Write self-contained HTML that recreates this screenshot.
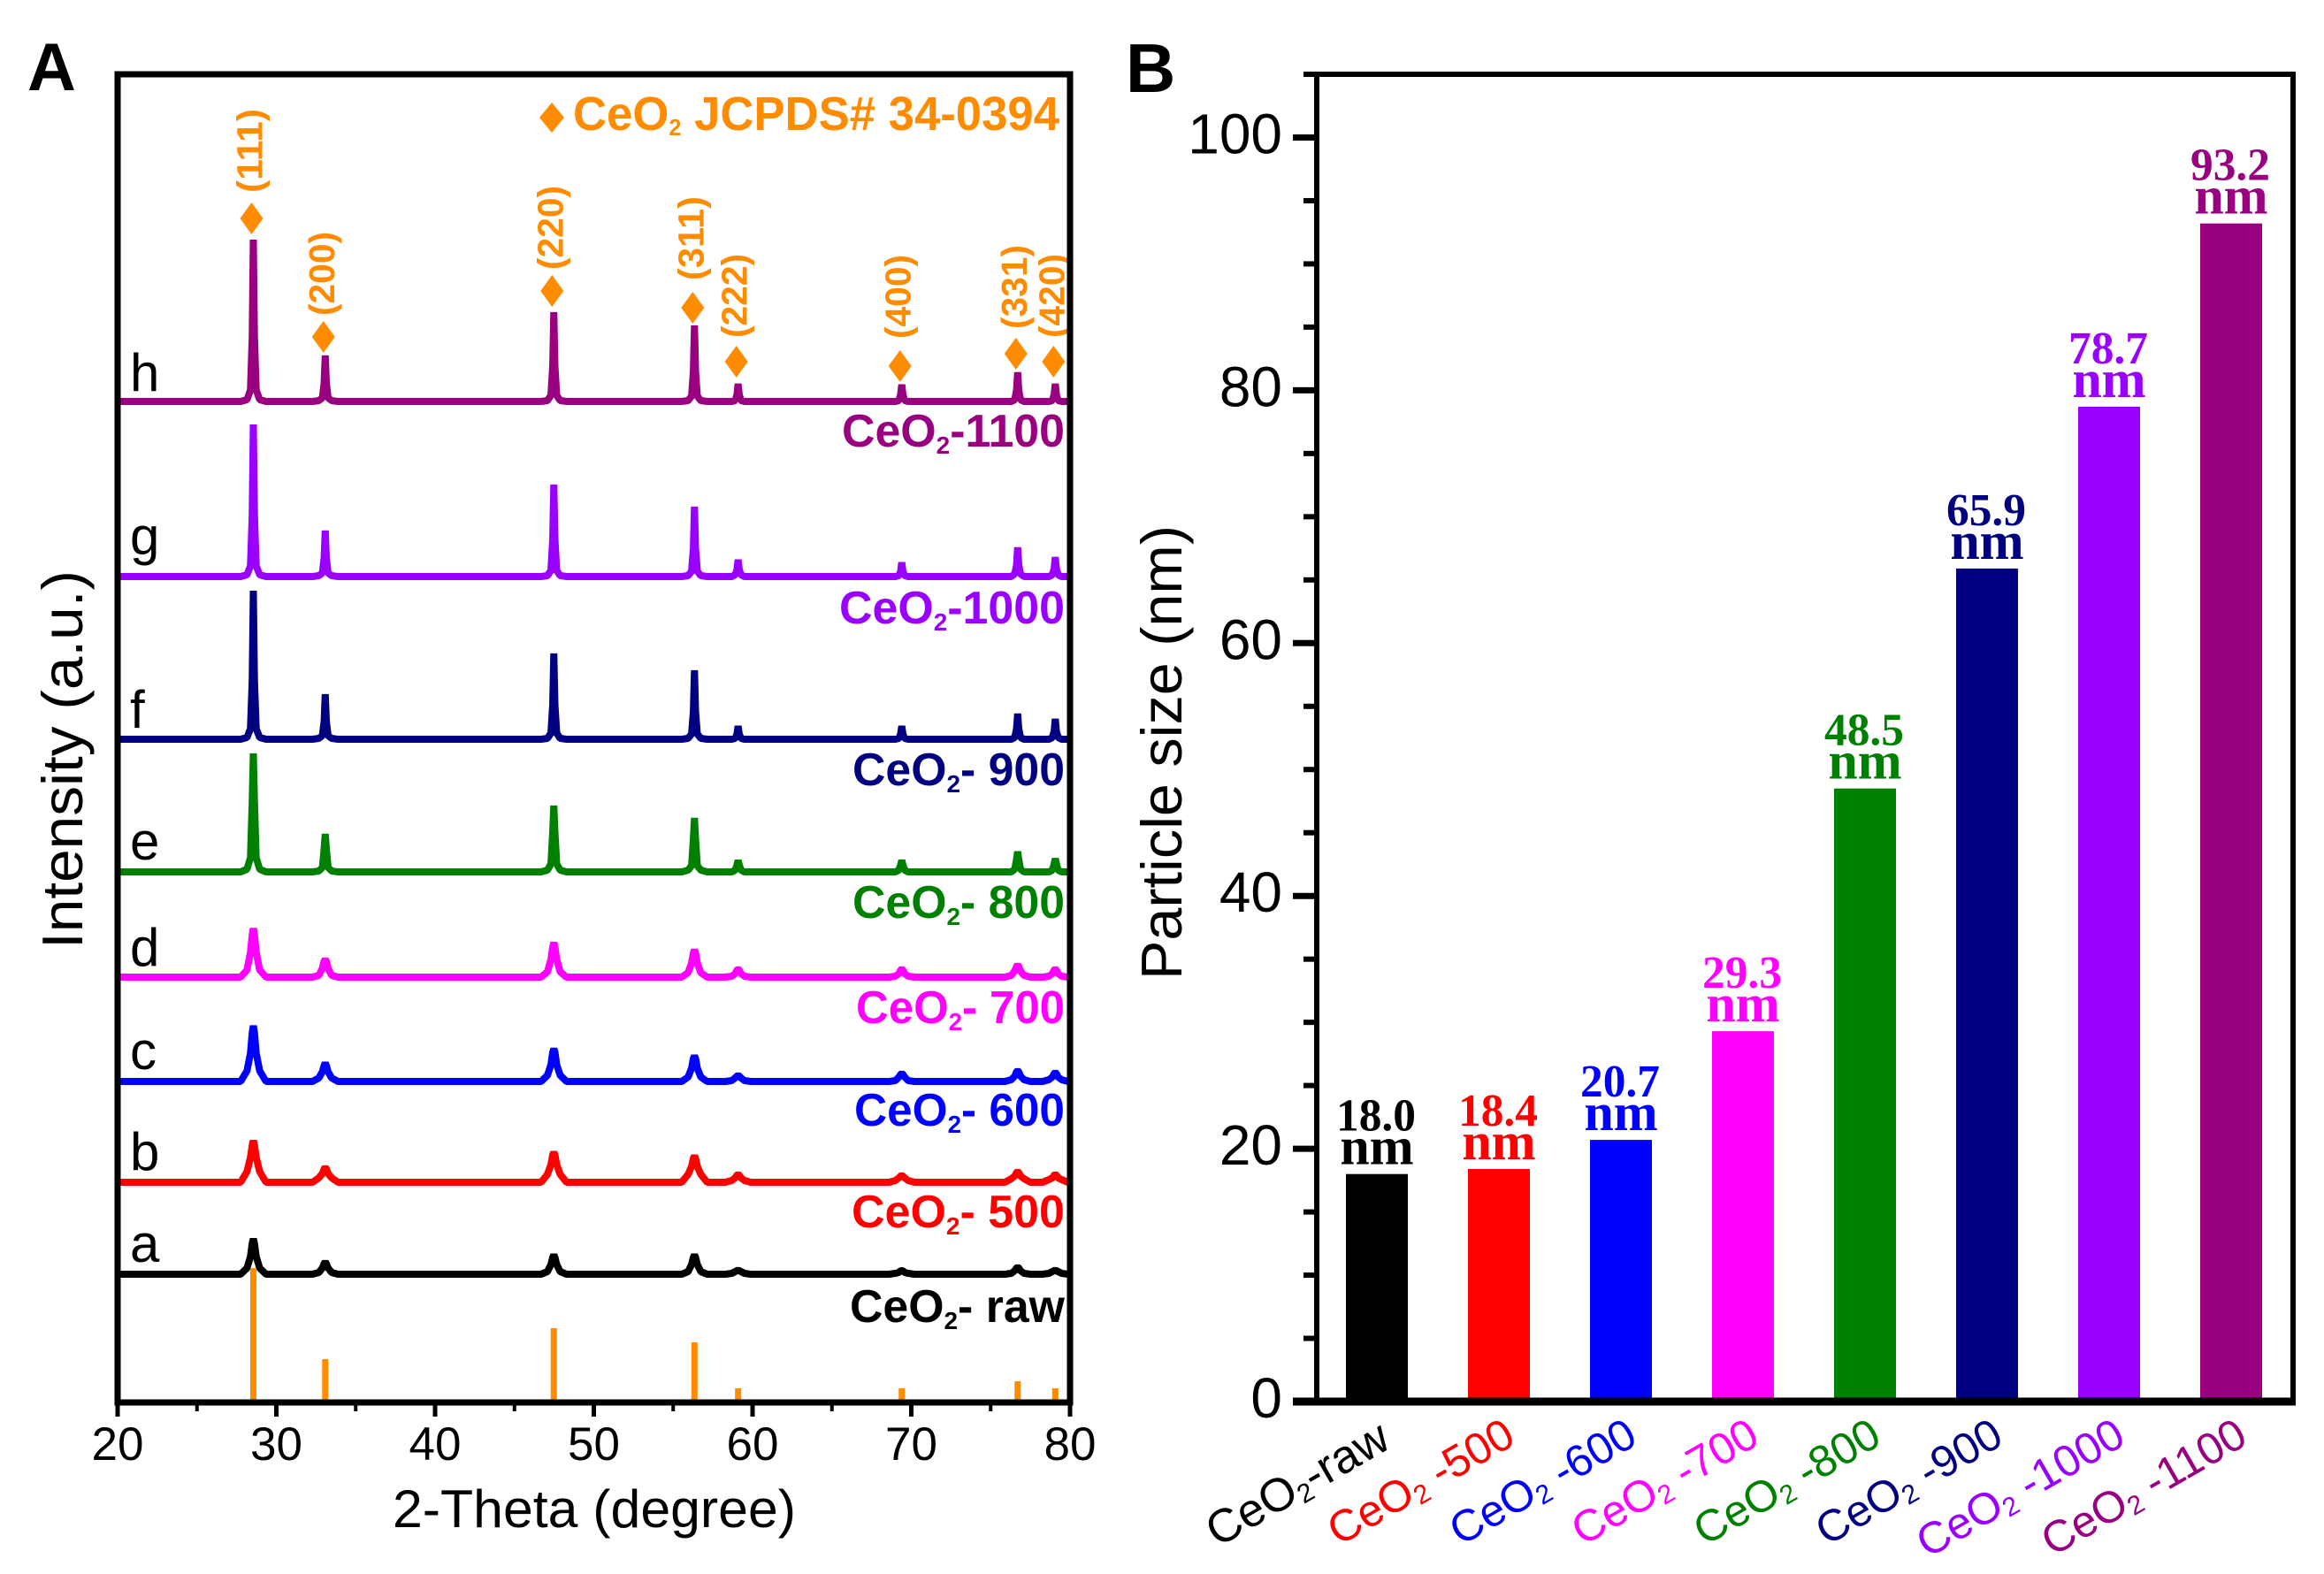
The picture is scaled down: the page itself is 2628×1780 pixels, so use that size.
<!DOCTYPE html>
<html lang="en">
<head>
<meta charset="utf-8">
<title>CeO2 XRD patterns and particle size</title>
<style>
html,body{margin:0;padding:0;background:#fff;}
svg{display:block;}
text{font-family:"Liberation Sans",Arial,sans-serif;}
</style>
</head>
<body>
<svg id="figure" xmlns="http://www.w3.org/2000/svg" width="2628" height="1780" viewBox="0 0 2628 1780">
  <rect x="0" y="0" width="2628" height="1780" fill="#fff"/>
  <g id="panelA"></g>
  <g id="panelB"></g>

  <text x="31" y="102" font-size="76" font-weight="bold" fill="#000">A</text>
  <text x="1273" y="104" font-size="78" font-weight="bold" fill="#000">B</text>

  <text x="444" y="1727" font-size="60" textLength="456" lengthAdjust="spacingAndGlyphs" fill="#000">2-Theta (degree)</text>
  <text transform="translate(93 1073) rotate(-90)" x="0" y="0" font-size="65" textLength="428" lengthAdjust="spacingAndGlyphs" fill="#000">Intensity (a.u.)</text>
  <text transform="translate(1336 1108) rotate(-90)" x="0" y="0" font-size="65" textLength="514" lengthAdjust="spacingAndGlyphs" fill="#000">Particle size (nm)</text>

  <polygon points="624,116 638,133 624,150 610,133" fill="#ff8c00"/>
  <text x="648" y="147" font-size="54" font-weight="bold" textLength="550" lengthAdjust="spacingAndGlyphs" fill="#ff8c00">CeO<tspan dy="6" font-size="26">2</tspan><tspan dy="-6"> JCPDS# 34-0394</tspan></text>
</svg>
<script>
// ---------- Panel A data ----------
const xTicksA = [20, 30, 40, 50, 60, 70, 80];
const xMinorTicksA = [25, 35, 45, 55, 65, 75];
const peakPositions = [28.55, 33.08, 47.48, 56.34, 59.09, 69.4, 76.7, 79.07];
const peakHkl = ['(111)', '(200)', '(220)', '(311)', '(222)', '(400)', '(331)', '(420)'];
const diamondLevels = [1339, 1205, 1257, 1238, 1177, 1172, 1186, 1177];
const hklLevels = [1368, 1229, 1281, 1269, 1204, 1203, 1214, 1204];
const stickIntensity = [152, 49, 84, 68, 16, 16, 24, 16];

const twoTheta = [20,
  27.75,28.15,28.37,28.48,28.55,28.62,28.73,28.95,29.35,
  32.28,32.68,32.9,33.01,33.08,33.15,33.26,33.48,33.88,
  46.68,47.08,47.3,47.41,47.48,47.55,47.66,47.88,48.28,
  55.54,55.94,56.16,56.27,56.34,56.41,56.52,56.74,57.14,
  58.29,58.69,58.91,59.02,59.09,59.16,59.27,59.49,59.89,
  68.6,69,69.22,69.33,69.4,69.47,69.58,69.8,70.2,
  75.9,76.3,76.52,76.63,76.7,76.77,76.88,77.1,77.5,
  78.27,78.67,78.89,79,79.07,79.14,79.25,79.47,79.87,
  80];

const intensityRaw = [0,
  0,7,20,35,40,35,20,7,0,
  0,2,7,12,14,12,7,2,0,
  0,3,11,19,22,19,11,3,0,
  0,3,11,19,22,19,11,3,0,
  0,1,3,4,5,4,3,1,0,
  0,1,2,4,4,4,2,1,0,
  0,1,4,7,8,7,4,1,0,
  0,1,3,4,5,4,3,1,0,
  0];
const intensity500 = [0,
  0,12,28,42,47,42,28,12,0,
  0,5,10,15,17,15,10,5,0,
  0,9,20,31,34,31,20,9,0,
  0,9,18,27,30,27,18,9,0,
  0,2,5,8,9,8,5,2,0,
  0,2,5,7,8,7,5,2,0,
  0,4,7,11,12,11,7,4,0,
  0,3,5,8,9,8,5,3,0,
  0];
const intensity600 = [0,
  0,12,32,55,63,55,32,12,0,
  0,4,11,18,21,18,11,4,0,
  0,7,19,33,37,33,19,7,0,
  0,5,15,26,29,26,15,5,0,
  0,1,4,6,7,6,4,1,0,
  0,1,5,8,9,8,5,1,0,
  0,2,6,11,12,11,6,2,0,
  0,2,5,9,10,9,5,2,0,
  0];
const intensity700 = [0,
  0,8,28,48,55,48,28,8,0,
  0,2,10,18,20,18,10,2,0,
  0,6,20,34,39,34,20,6,0,
  0,5,16,27,31,27,16,5,0,
  0,1,4,8,9,8,4,1,0,
  0,1,4,8,9,8,4,1,0,
  0,2,7,12,14,12,7,2,0,
  0,1,4,8,9,8,4,1,0,
  0];
const intensity800 = [0,
  0,3,16,80,134,80,16,3,0,
  0,1,5,26,43,26,5,1,0,
  0,2,9,45,75,45,9,2,0,
  0,2,7,37,61,37,7,2,0,
  0,0,2,8,13,8,2,0,0,
  0,0,2,8,13,8,2,0,0,
  0,0,3,14,23,14,3,0,0,
  0,0,2,9,15,9,2,0,0,
  0];
const intensity900 = [0,
  0,2,12,67,168,67,12,2,0,
  0,1,4,20,51,20,4,1,0,
  0,1,7,39,97,39,7,1,0,
  0,1,6,31,78,31,6,1,0,
  0,0,1,6,15,6,1,0,0,
  0,0,1,6,15,6,1,0,0,
  0,0,2,12,29,12,2,0,0,
  0,0,2,9,23,9,2,0,0,
  0];
const intensity1000 = [0,
  0,2,12,69,172,69,12,2,0,
  0,1,4,21,52,21,4,1,0,
  0,1,7,42,104,42,7,1,0,
  0,1,6,32,79,32,6,1,0,
  0,0,2,8,19,8,2,0,0,
  0,0,1,6,16,6,1,0,0,
  0,0,3,13,33,13,3,0,0,
  0,0,2,9,22,9,2,0,0,
  0];
const intensity1100 = [0,
  0,2,13,73,183,73,13,2,0,
  0,1,4,21,52,21,4,1,0,
  0,1,7,40,101,40,7,1,0,
  0,1,6,34,86,34,6,1,0,
  0,0,1,8,20,8,1,0,0,
  0,0,1,8,19,8,1,0,0,
  0,0,2,13,33,13,2,0,0,
  0,0,1,8,20,8,1,0,0,
  0];
const traceSeries = [intensityRaw, intensity500, intensity600, intensity700, intensity800, intensity900, intensity1000, intensity1100];
const traceOffsets = [145, 249, 363, 481, 600, 750, 934, 1132];
const traceLetters = ['a', 'b', 'c', 'd', 'e', 'f', 'g', 'h'];
const letterLevels = [159, 263, 377, 494, 614, 763, 959, 1144];
const sampleSuffix = ['- raw', '- 500', '- 600', '- 700', '- 800', '- 900', '-1000', '-1100'];
const sampleLabelLevels = [91, 198, 313, 429, 548, 698, 881, 1081];
const sampleLabelWidths = [243, 241, 238, 236, 240, 240, 255, 252];

// ---------- Panel B data ----------
const categorySuffix = ['-raw', ' -500', ' -600', ' -700', ' -800', ' -900', ' -1000', ' -1100'];
const particleSize = [18.0, 18.4, 20.7, 29.3, 48.5, 65.9, 78.7, 93.2];
const sizeLabels = ['18.0', '18.4', '20.7', '29.3', '48.5', '65.9', '78.7', '93.2'];
const yMajorTicksB = [0, 20, 40, 60, 80, 100];
const yMinorTicksB = [5, 10, 15, 25, 30, 35, 45, 50, 55, 65, 70, 75, 85, 90, 95, 105];
const sampleColors = ['#000000', '#ff0000', '#0000ff', '#ff00ff', '#008000', '#000080', '#9900ff', '#990080'];
const ORANGE = '#ff8c00';

// ---------- Scales ----------
const plotA = {left: 133, right: 1210, top: 84, bottom: 1586};
const plotB = {left: 1489, right: 2593, top: 84, bottom: 1585};
const xA = v => plotA.left + (v - 20) / 60 * (plotA.right - plotA.left);
const yA = v => plotA.bottom - v;
const bandB = (plotB.right - plotB.left) / particleSize.length;
const xB = i => plotB.left - 1 + bandB * (i + 0.5);
const yB = v => plotB.bottom - v / 105 * (plotB.bottom - plotB.top);

const NS = 'http://www.w3.org/2000/svg';
const panelA = document.getElementById('panelA');
const panelB = document.getElementById('panelB');
function make(tag, attrs, parent, content) {
  const n = document.createElementNS(NS, tag);
  for (const k in attrs) n.setAttribute(k, attrs[k]);
  if (content !== undefined) n.textContent = content;
  parent.appendChild(n);
  return n;
}
function subscriptText(node, suffix, subSize, subShift) {
  node.appendChild(document.createTextNode('CeO'));
  make('tspan', {dy: subShift, 'font-size': subSize}, node, '2');
  make('tspan', {dy: -subShift}, node, suffix);
}

// ---------- Panel A: traces ----------
traceSeries.forEach((series, s) => {
  const d = series.map((v, i) => (i ? 'L' : 'M') + xA(twoTheta[i]).toFixed(2) + ' ' + yA(traceOffsets[s] + v).toFixed(2)).join(' ');
  const trace = make('path', {d: d, fill: 'none', stroke: sampleColors[s], 'stroke-width': 8, 'stroke-linejoin': 'bevel'}, panelA);
  
  

  const letter = make('text', {x: 147, y: yA(letterLevels[s]), 'font-size': 60, fill: '#000'}, panelA, traceLetters[s]);
  
  

  const w = sampleLabelWidths[s];
  const label = make('text', {x: 1204 - w, y: yA(sampleLabelLevels[s]), 'font-size': 52, 'font-weight': 'bold', fill: sampleColors[s], textLength: w, lengthAdjust: 'spacingAndGlyphs'}, panelA);
  subscriptText(label, sampleSuffix[s], 28, 8);
  
  
});

// ---------- Panel A: reference sticks, diamonds, hkl labels ----------
peakPositions.forEach((p, i) => {
  const stick = make('rect', {x: xA(p) - 3.5, y: yA(stickIntensity[i]), width: 7, height: stickIntensity[i], fill: ORANGE}, panelA);
  
  

  const cx = xA(p) - 2;
  const cy = yA(diamondLevels[i]);
  const diamond = make('polygon', {points: [cx, cy - 18, cx + 13, cy, cx, cy + 18, cx - 13, cy].join(' '), fill: ORANGE}, panelA);
  
  

  const bx = xA(p) + 10;
  const by = yA(hklLevels[i]);
  const hkl = make('text', {transform: 'translate(' + bx + ' ' + by + ') rotate(-90)', 'font-size': 41, 'font-weight': 'bold', fill: ORANGE, textLength: 95, lengthAdjust: 'spacingAndGlyphs'}, panelA, peakHkl[i]);
  
  
});

// ---------- Panel A: axes ----------
const frameA = make('rect', {x: plotA.left, y: plotA.top, width: plotA.right - plotA.left, height: plotA.bottom - plotA.top, fill: 'none', stroke: '#000', 'stroke-width': 7}, panelA);


xTicksA.forEach(t => {
  const tick = make('line', {x1: xA(t), x2: xA(t), y1: plotA.bottom, y2: 1602, stroke: '#000', 'stroke-width': 5}, panelA);
  
  
  const lab = make('text', {x: xA(t), y: 1651, 'font-size': 53, 'text-anchor': 'middle', fill: '#000'}, panelA, String(t));
  
  
});
xMinorTicksA.forEach(t => {
  const tick = make('line', {x1: xA(t), x2: xA(t), y1: plotA.bottom, y2: 1596, stroke: '#000', 'stroke-width': 4}, panelA);
  
  
});

// ---------- Panel B: bars ----------
particleSize.forEach((v, i) => {
  const bar = make('rect', {x: xB(i) - 35, y: yB(v), width: 70, height: yB(0) - yB(v), fill: sampleColors[i]}, panelB);
  
  

  const valueLabel = make('text', {x: xB(i) - 1, y: yB(v) - 49, 'font-size': 52, 'font-weight': 'bold', 'text-anchor': 'middle', textLength: 90, lengthAdjust: 'spacingAndGlyphs', fill: sampleColors[i], style: 'font-family:"Liberation Serif",serif'}, panelB, sizeLabels[i]);
  
  

  const unitLabel = make('text', {x: xB(i), y: yB(v) - 11, 'font-size': 60, 'font-weight': 'bold', 'text-anchor': 'middle', fill: sampleColors[i], style: 'font-family:"Liberation Serif",serif'}, panelB, 'nm');
  
  

  const ax = xB(i) + (i === 0 ? 18 : 21);
  const ay = i === 0 ? 1636 : 1632;
  const cat = make('text', {transform: 'translate(' + ax + ' ' + ay + ') rotate(-30)', 'font-size': i === 0 ? 53 : 50, 'text-anchor': 'end', fill: sampleColors[i]}, panelB);
  subscriptText(cat, categorySuffix[i], 30, 6);
  
  
});

// ---------- Panel B: axes ----------
const frameB = make('rect', {x: plotB.left, y: plotB.top, width: plotB.right - plotB.left, height: plotB.bottom - plotB.top, fill: 'none', stroke: '#000', 'stroke-width': 6}, panelB);


const baseB = make('line', {x1: 1462, x2: plotB.right + 3, y1: plotB.bottom, y2: plotB.bottom, stroke: '#000', 'stroke-width': 9}, panelB);


yMajorTicksB.forEach(t => {
  const tick = make('line', {x1: 1462, x2: plotB.left, y1: yB(t), y2: yB(t), stroke: '#000', 'stroke-width': 7}, panelB);
  
  
  const lab = make('text', {x: 1450, y: yB(t) + 18, 'font-size': 64, 'text-anchor': 'end', fill: '#000'}, panelB, String(t));
  
  
});
yMinorTicksB.forEach(t => {
  const tick = make('line', {x1: 1474, x2: plotB.left, y1: yB(t), y2: yB(t), stroke: '#000', 'stroke-width': 6}, panelB);
  
  
});
</script>
</body>
</html>
